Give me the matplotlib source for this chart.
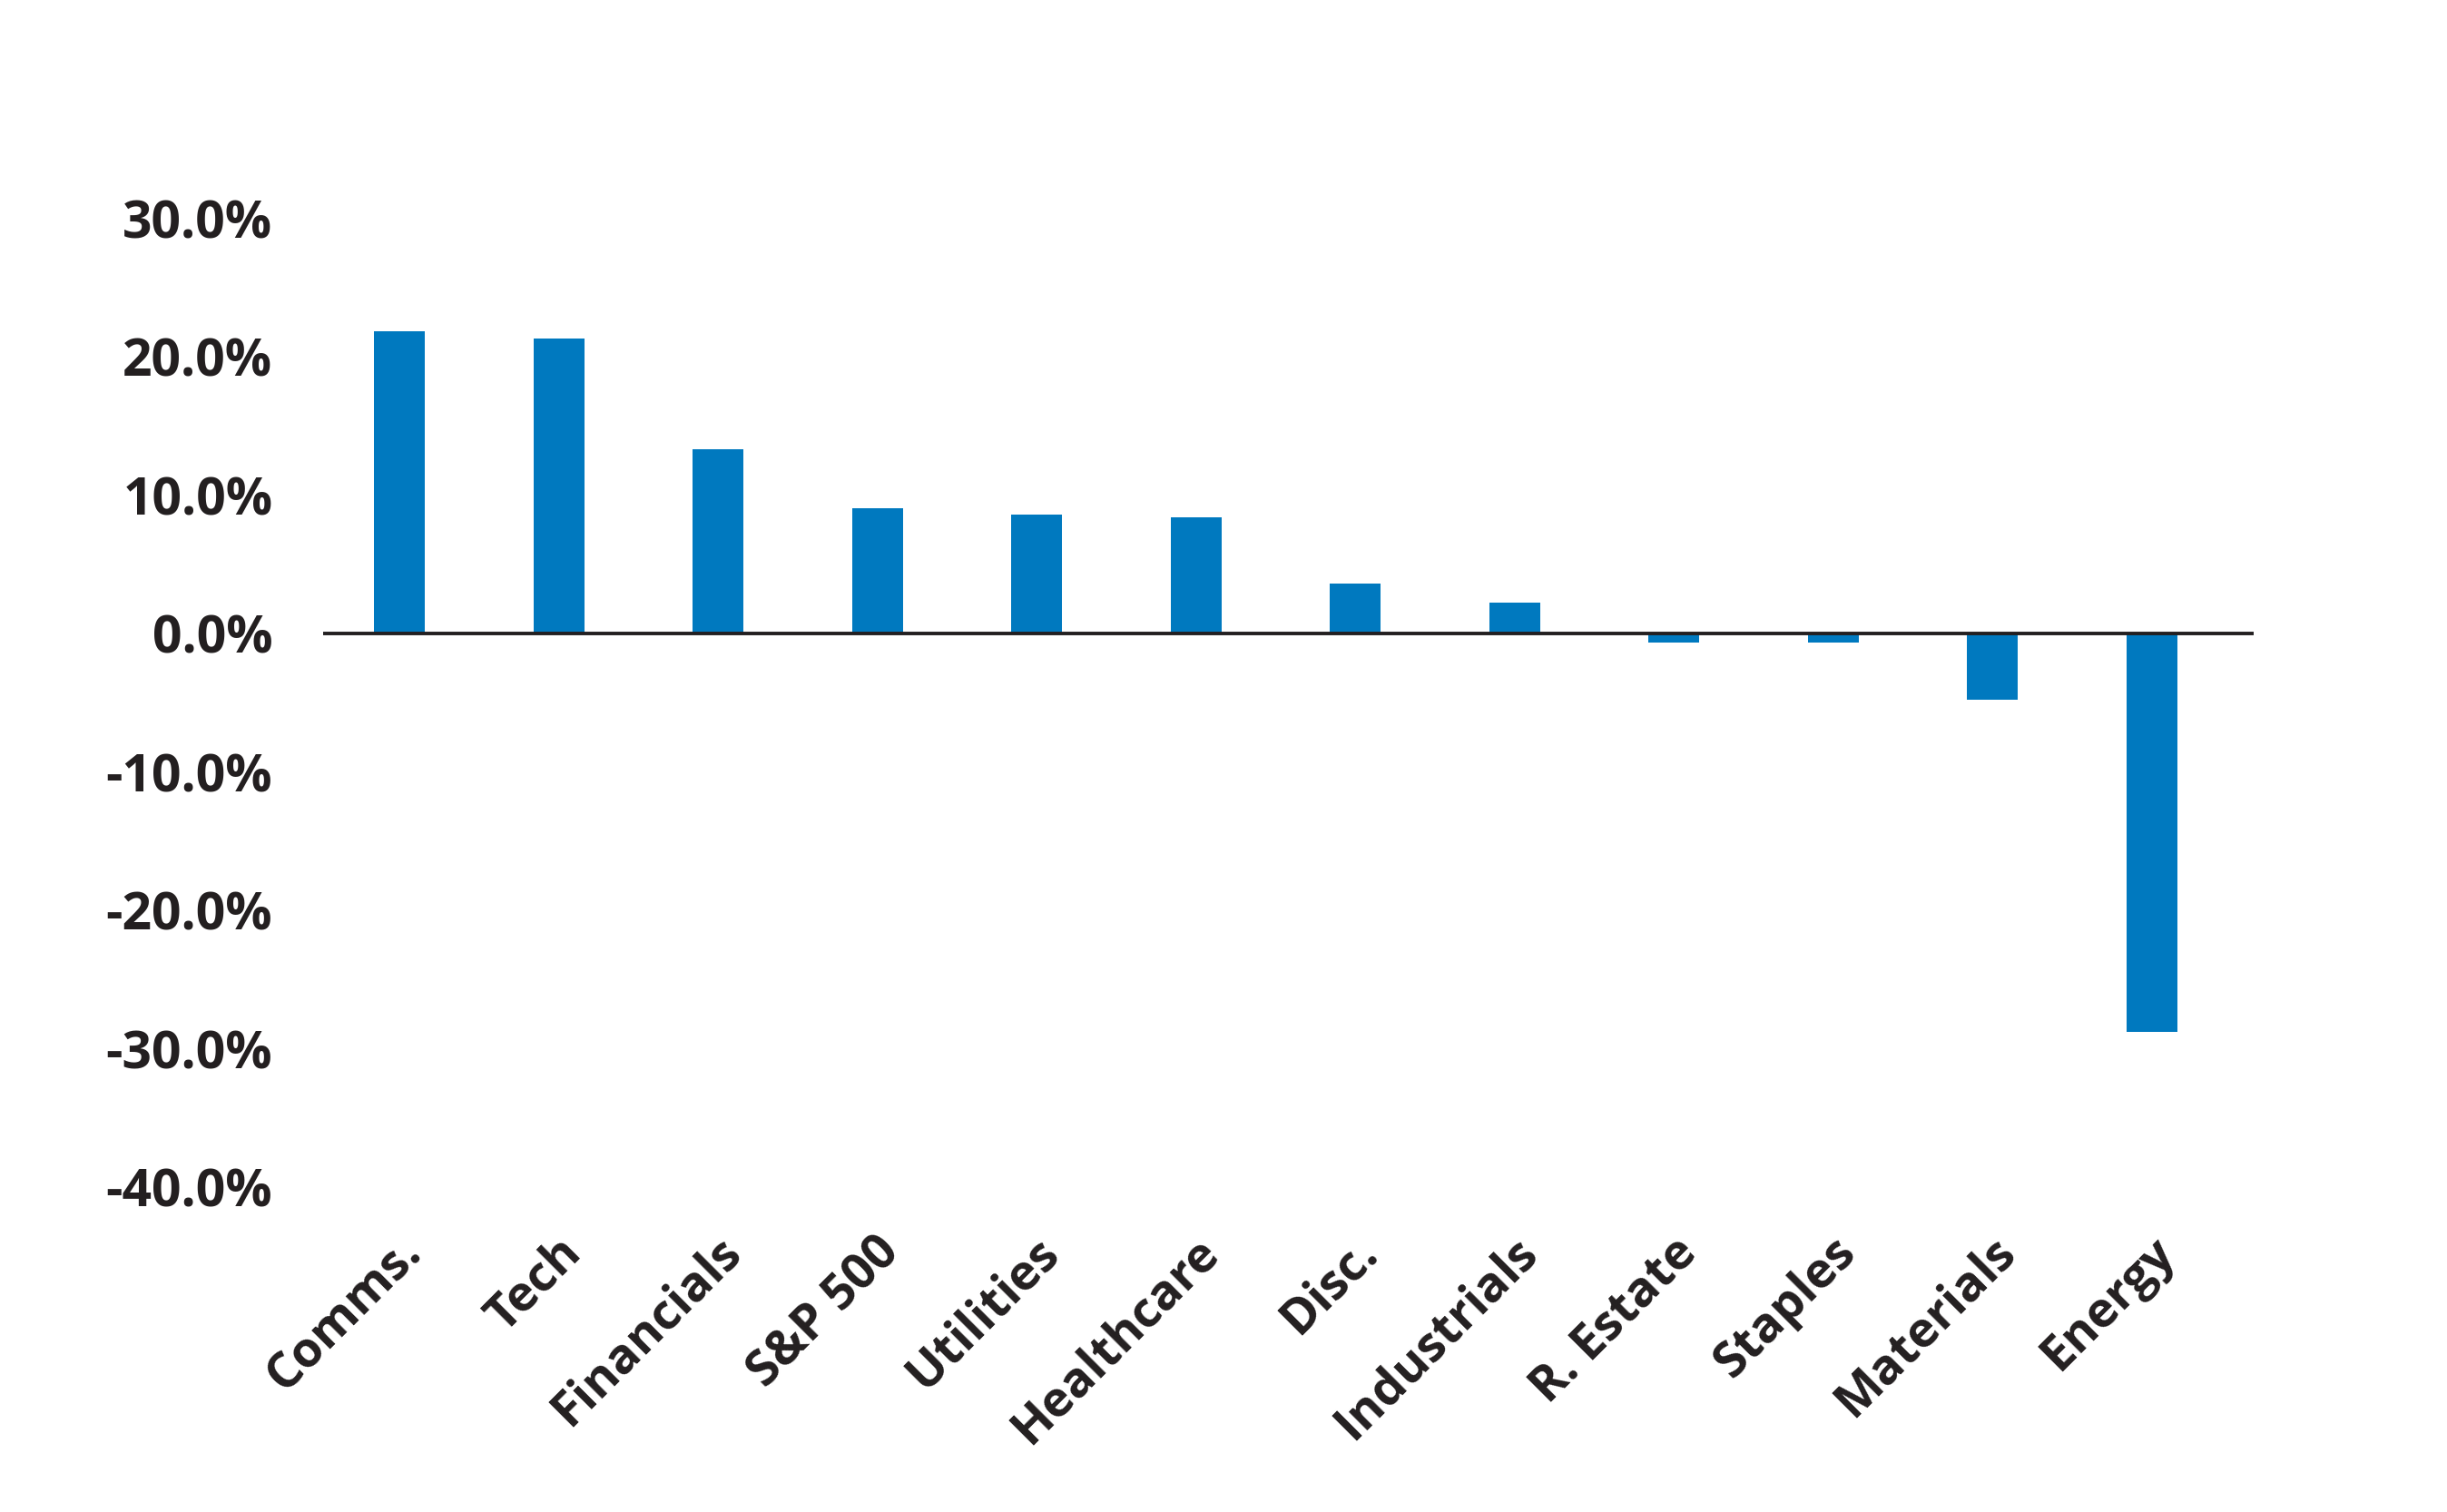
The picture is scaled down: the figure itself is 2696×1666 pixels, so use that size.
import matplotlib
matplotlib.use("Agg")
import matplotlib.pyplot as plt
from matplotlib import font_manager
import matplotlib.transforms as mtransforms

categories = ["Comms.", "Tech", "Financials", "S&P 500", "Utilities", "Healthcare",
              "Disc.", "Industrials", "R. Estate", "Staples", "Materials", "Energy"]
values = [21.8, 21.3, 13.3, 9.0, 8.6, 8.4, 3.6, 2.2, -0.7, -0.7, -4.8, -28.8]
yticks = [-40, -30, -20, -10, 0, 10, 20, 30]
ytick_labels = ["-40.0%", "-30.0%", "-20.0%", "-10.0%", "0.0%", "10.0%", "20.0%", "30.0%"]

avail = {f.name for f in font_manager.fontManager.ttflist}
fam = None
for cand in ["Liberation Sans Narrow", "Open Sans", "Noto Sans", "DejaVu Sans"]:
    if cand in avail:
        fam = cand
        break
plt.rcParams['font.family'] = [fam, 'DejaVu Sans']

text_color = "#231F20"
bar_color = "#0079BF"

fig = plt.figure(figsize=(13.48, 8.33), dpi=200)
ax = fig.add_axes([0.132, 0.2149, 0.789, 0.641])
x = list(range(len(categories)))
ax.bar(x, values, width=0.32, color=bar_color, zorder=2)
ax.axhline(0, color=text_color, linewidth=1.4, zorder=3)
ax.set_xlim(-0.48, 11.64)
ax.set_ylim(-40, 30)
for s in ax.spines.values():
    s.set_visible(False)
ax.set_yticks(yticks)
ax.set_yticklabels(ytick_labels, fontsize=20.5, fontweight='bold', color=text_color)
ax.tick_params(axis='y', length=0, pad=20)
ax.set_xticks(x)
ax.set_xticklabels(categories, fontsize=19.5, fontweight='bold', color=text_color,
                   rotation=45, ha='right', va='center', rotation_mode='anchor')
ax.tick_params(axis='x', length=0, pad=23)
offset = mtransforms.ScaledTranslation(6/72, 0, fig.dpi_scale_trans)
for lbl in ax.get_xticklabels():
    lbl.set_transform(lbl.get_transform() + offset)

fig.savefig("out.png", dpi=200, facecolor="white")
